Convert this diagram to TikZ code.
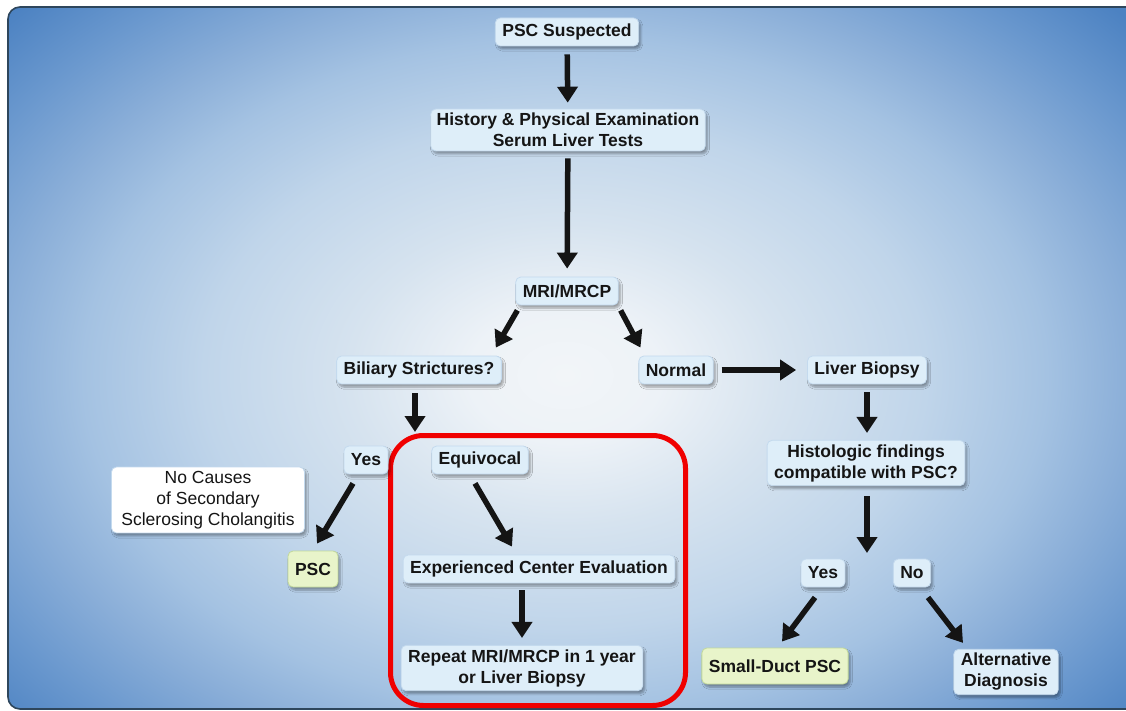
\documentclass[tikz,border=0pt]{standalone}
\usepackage{fontspec}
\setmainfont{Liberation Sans}
\usetikzlibrary{arrows.meta,calc,shadows.blur}
\definecolor{bgA}{HTML}{F2F5F8}
\definecolor{bgA2}{HTML}{EDF2F7}
\definecolor{bgB}{HTML}{D6E3EF}
\definecolor{bgC}{HTML}{C0D5EA}
\definecolor{bgC2}{HTML}{A4C2E2}
\definecolor{bgD}{HTML}{8AAED8}
\definecolor{bgD2}{HTML}{6A98CE}
\definecolor{bgE}{HTML}{4C82C2}
\definecolor{panelline}{HTML}{2E465C}
\definecolor{boxfill}{HTML}{DEEEF9}
\definecolor{boxline}{HTML}{C4DAEE}
\definecolor{greenfill}{HTML}{E8F4CA}
\definecolor{greenline}{HTML}{C2D99A}
\definecolor{txt}{HTML}{151515}
\definecolor{hired}{HTML}{F00000}
\pgfdeclareradialshading{bgsh}{\pgfpoint{0bp}{0bp}}{color(0bp)=(bgA); color(8bp)=(bgA2); color(18bp)=(bgB); color(30bp)=(bgC); color(40bp)=(bgC2); color(47bp)=(bgD); color(55bp)=(bgD2); color(63bp)=(bgE); color(80bp)=(bgE)}
\tikzset{
  x=1pt, y=-1pt,
  box/.style={draw=boxline, line width=0.8pt, fill=boxfill, rounded corners=5pt,
    font=\bfseries\fontsize{17.5}{21}\selectfont, text=txt, align=center,
    inner xsep=7pt, inner ysep=4pt, minimum height=28pt,
    blur shadow={shadow xshift=2pt, shadow yshift=-3pt, shadow opacity=35, shadow blur steps=6}},
  greenbox/.style={box, fill=greenfill, draw=greenline, minimum height=36pt},
  whitebox/.style={box, fill=white, draw=boxline, font=\fontsize{17.5}{21}\selectfont, inner xsep=10pt},
  arr/.style={line width=5.5pt, draw=black!92, -{Triangle[length=16pt,width=20pt]}},
}
\begin{document}
\begin{tikzpicture}
\useasboundingbox (0,0) rectangle (1126,711);
\fill[white] (0,0) rectangle (1126,711);
\begin{scope}
  \clip[rounded corners=12pt] (8,7) rectangle (1145,709);
  \pgftransformshift{\pgfpointxy{565}{375}}
  \pgftransformxscale{12}
  \pgftransformyscale{8.4}
  \pgflowlevelsynccm
  \pgfuseshading{bgsh}
\end{scope}
\draw[panelline, line width=1.6pt, rounded corners=12pt] (8,7) rectangle (1145,709);

% highlight frame
\draw[hired, line width=5pt, rounded corners=33pt] (390.5,435.5) rectangle (685.5,705.5);

% nodes
\node[box] (psc) at (567,32) {PSC Suspected};
\node[box, inner xsep=6pt] (hist) at (568,130) {History \& Physical Examination\\Serum Liver Tests};
\node[box] (mri) at (567,291) {MRI/MRCP};
\node[box] (bil) at (419,370) {Biliary Strictures?};
\node[box] (norm) at (676,370) {Normal};
\node[box] (liv) at (867,370) {Liver Biopsy};
\node[box] (histo) at (866,463) {Histologic findings\\compatible with PSC?};
\node[box] (yesl) at (366,460) {Yes};
\node[box] (equiv) at (480,460) {Equivocal};
\node[whitebox] (nocause) at (208,500) {No Causes\\of Secondary\\Sclerosing Cholangitis};
\node[greenbox] (pscd) at (313,569) {PSC};
\node[box] (exp) at (539,569) {Experienced Center Evaluation};
\node[box] (rep) at (522,668) {Repeat MRI/MRCP in 1 year\\or Liver Biopsy};
\node[box] (yesr) at (823,573) {Yes};
\node[box] (nor) at (912,573) {No};
\node[greenbox] (small) at (775,666) {Small-Duct PSC};
\node[box] (alt) at (1006,672) {Alternative\\Diagnosis};

\coordinate (bilend) at (415,432);
\coordinate (histoend) at (867,553);

% connectors
\draw[arr, shorten <=8pt, shorten >=6pt] (psc) -- (hist);
\draw[arr, shorten <=7pt, shorten >=8pt] (hist) -- (mri);
\draw[arr] ($(mri.south west)+(2,5)$) -- ($(bil.north east)+(-6,-8)$);
\draw[arr] ($(mri.south east)+(2,5)$) -- ($(norm.north west)+(2,-8)$);
\draw[arr] ($(bil.south)+(-4,9)$) -- (bilend);
\draw[arr, shorten <=8pt, shorten >=11pt] (norm) -- (liv);
\draw[arr, shorten <=8pt, shorten >=7pt] (liv) -- (histo.north -| liv.south);
\draw[arr] ($(histo.south)+(1,10)$) -- (histoend);
\draw[arr] ($(yesl.south)+(-13,9)$) -- ($(pscd.north)+(4,-7)$);
\draw[arr] ($(equiv.south)+(-5,9)$) -- ($(exp.north)+(-27,-8)$);
\draw[arr] ($(exp.south -| rep.north)+(0,7)$) -- ($(rep.north)+(0,-7)$);
\draw[arr] ($(yesr.south)+(-8,10)$) -- ($(small.north)+(7,-6)$);
\draw[arr] ($(nor.south)+(16,10)$) -- ($(alt.north)+(-43,-6)$);
\end{tikzpicture}
\end{document}
